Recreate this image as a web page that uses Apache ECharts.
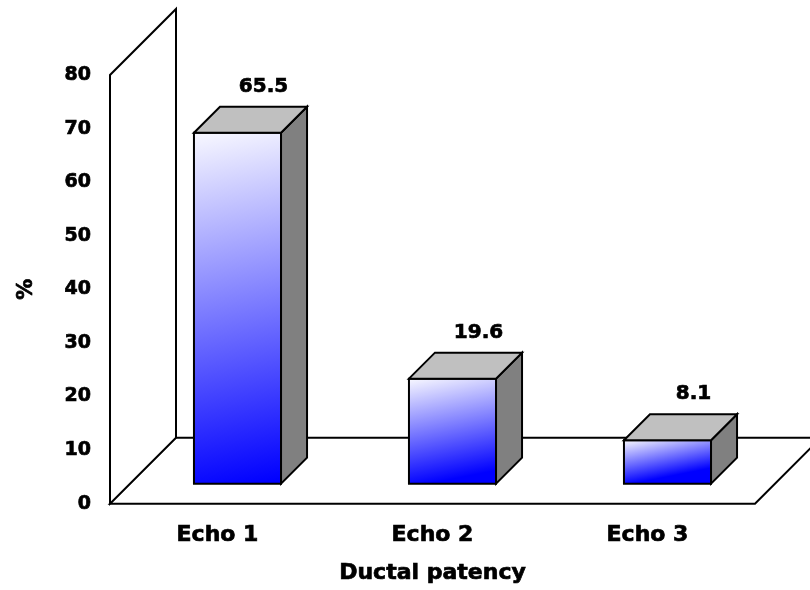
<!DOCTYPE html>
<html>
<head>
<meta charset="utf-8">
<script src="https://cdn.jsdelivr.net/npm/echarts@6/dist/echarts.min.js"></script>
<style>
  html, body { margin: 0; padding: 0; background: #ffffff; }
  #chart { width: 810px; height: 590px; }
</style>
</head>
<body>
<div id="chart"></div>
<script>
// Ductal patency by echo examination (%)
const categories = ['Echo 1', 'Echo 2', 'Echo 3'];
const patency = [65.5, 19.6, 8.1];
const yMin = 0;
const yMax = 80;
const yStep = 10;

// Pseudo-3D geometry (pixels)
const FLOOR_DEPTH = 66;   // depth of the floor / side wall
const BAR_DEPTH = 26;     // depth of each box
const BAR_INSET = (FLOOR_DEPTH - BAR_DEPTH) / 2; // boxes sit mid-floor
const BAR_RATIO = 0.405;  // box width as a share of the category band
const LINE_W = 2;
const FONT = 'DejaVu Sans';

// heavy black lettering used by every text on the chart
function heavyText(size) {
  return {
    color: '#000000',
    fontFamily: FONT,
    fontWeight: 'bold',
    fontSize: size,
    textBorderColor: '#000000',
    textBorderWidth: 0.7
  };
}

const chart = echarts.init(document.getElementById('chart'), null, { renderer: 'canvas' });

// Side wall and floor of the plot box, taken from the grid's own rectangle
function renderFrame(params) {
  const cs = params.coordSys;
  const x0 = cs.x, x1 = cs.x + cs.width;
  const yTop = cs.y, yBot = cs.y + cs.height;
  const D = FLOOR_DEPTH;
  const stroke = { fill: '#ffffff', stroke: '#000000', lineWidth: LINE_W, lineJoin: 'miter' };
  return {
    type: 'group',
    children: [
      {
        type: 'polygon',
        shape: { points: [[x0, yBot], [x1, yBot], [x1 + D, yBot - D], [x0 + D, yBot - D]] },
        style: stroke
      },
      {
        type: 'polygon',
        shape: { points: [[x0, yBot], [x0, yTop], [x0 + D, yTop - D], [x0 + D, yBot - D]] },
        style: stroke
      }
    ]
  };
}

// One shaded box per category, with its value above the back face
function renderBox(params, api) {
  const idx = api.value(0);
  const val = api.value(1);
  const base = api.coord([idx, yMin]);
  const top = api.coord([idx, val]);
  const band = api.size([1, 0])[0];
  const w = band * BAR_RATIO;
  const cx = base[0] + BAR_INSET;
  const xl = cx - w / 2, xr = cx + w / 2;
  const yb = base[1] - BAR_INSET, yt = top[1] - BAR_INSET;
  const d = BAR_DEPTH;
  const edge = { stroke: '#000000', lineWidth: LINE_W, lineJoin: 'miter' };
  // light at the top-left corner, deep blue along the bottom
  const frontFill = new echarts.graphic.LinearGradient(
    xl, yt, xl + 0.2 * (yb - yt), yb,
    [
      { offset: 0, color: '#f8f8ff' },
      { offset: 1, color: '#0000ff' }
    ],
    true
  );
  return {
    type: 'group',
    children: [
      {
        type: 'polygon',
        shape: { points: [[xl, yt], [xr, yt], [xr, yb], [xl, yb]] },
        style: Object.assign({ fill: frontFill }, edge)
      },
      {
        type: 'polygon',
        shape: { points: [[xr, yt], [xr + d, yt - d], [xr + d, yb - d], [xr, yb]] },
        style: Object.assign({ fill: '#808080' }, edge)
      },
      {
        type: 'polygon',
        shape: { points: [[xl, yt], [xl + d, yt - d], [xr + d, yt - d], [xr, yt]] },
        style: Object.assign({ fill: '#c0c0c0' }, edge)
      },
      {
        type: 'text',
        style: {
          text: String(val),
          x: cx + d,
          y: yt - d - 20,
          align: 'center',
          verticalAlign: 'middle',
          fill: '#000000',
          stroke: '#000000',
          lineWidth: 0.7,
          font: 'bold 20px "' + FONT + '"'
        }
      }
    ]
  };
}

const option = {
  backgroundColor: '#ffffff',
  animation: false,
  grid: { left: 110, right: 55, top: 75, bottom: 82, containLabel: false },
  xAxis: {
    type: 'category',
    data: categories,
    boundaryGap: true,
    axisLine: { show: false },
    axisTick: { show: false },
    splitLine: { show: false },
    axisLabel: Object.assign({ margin: 21 }, heavyText(22)),
    name: 'Ductal patency',
    nameLocation: 'middle',
    nameGap: 59,
    nameTextStyle: heavyText(22)
  },
  yAxis: {
    type: 'value',
    min: yMin,
    max: yMax,
    interval: yStep,
    axisLine: { show: false },
    axisTick: { show: false },
    splitLine: { show: false },
    axisLabel: Object.assign({ margin: 19 }, heavyText(19)),
    name: '%',
    nameLocation: 'middle',
    nameRotate: 90,
    nameGap: 73,
    nameTextStyle: heavyText(21)
  },
  series: [
    {
      type: 'custom',
      name: 'frame',
      silent: true,
      clip: false,
      z: 1,
      data: [[0, 0]],
      renderItem: renderFrame
    },
    {
      type: 'custom',
      name: 'Ductal patency',
      clip: false,
      z: 2,
      encode: { x: 0, y: 1 },
      data: patency.map((v, i) => [i, v]),
      renderItem: renderBox
    }
  ]
};

chart.setOption(option);
</script>
</body>
</html>
